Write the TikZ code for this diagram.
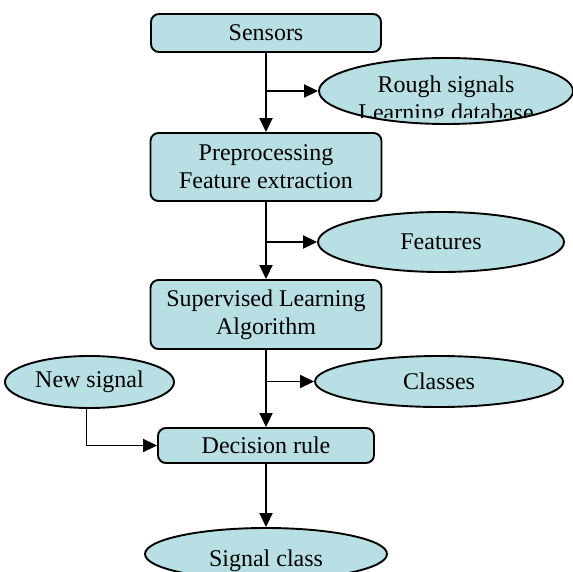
\documentclass[tikz,border=0pt]{standalone}
\usepackage{fontspec}
\setmainfont{Liberation Serif}
\usetikzlibrary{arrows.meta, shapes.geometric, positioning}

\definecolor{boxfill}{RGB}{184,224,228}

\begin{document}
\begin{tikzpicture}[x=1bp, y=-1bp,
		box/.style={draw, line width=1.9bp, fill=boxfill, rounded corners=8bp, inner sep=0pt, align=center},
		bubble/.style={draw, ellipse, line width=1.9bp, fill=boxfill, inner sep=0pt, align=center},
		arr/.style={line width=1.9bp, -{Triangle[length=14bp, width=13bp]}},
		font=\fontsize{24bp}{28bp}\selectfont]
		\clip (0,0) rectangle (573,572);

\node[box, minimum width=230bp, minimum height=38bp] (sensors) at (266,33) {Sensors};
\node[box, minimum width=231bp, minimum height=68bp] (pre) at (266,167) {Preprocessing\\Feature extraction};
\node[box, minimum width=231bp, minimum height=69bp] (sup) at (266,314.5) {Supervised Learning\\Algorithm};
\node[box, minimum width=216bp, minimum height=35bp] (dec) at (266,445.5) {Decision rule};

\node[bubble, minimum width=254bp, minimum height=66bp] (rough) at (446,91) {};
\begin{scope}
	\clip (319,50) rectangle (573,118);
	\node[align=center, inner sep=0pt] (roughtext) at (446,101) {Rough signals\\Learning database};
\end{scope}
\node[bubble, minimum width=246bp, minimum height=60bp] (feat) at (441,242) {Features};
\node[bubble, minimum width=169bp, minimum height=52bp] (newsig) at (89.5,382) {New signal};
\node[bubble, minimum width=248bp, minimum height=51bp] (classes) at (439,381.5) {Classes};
\node[bubble, minimum width=242bp, minimum height=52bp] (sigclass) at (266,554) {};
\node[inner sep=0pt] (sigclasstext) at (266,561) {Signal class};

\draw[arr] (sensors) -- (pre);
\draw[arr] (pre) -- (sup);
\draw[arr] (sup) -- (dec);
\draw[arr] (dec) -- (sigclass);

\draw[arr] (sensors.south |- rough.west) -- (rough.west);
\draw[arr] (pre.south |- feat.west) -- (feat.west);
\draw[arr] (sup.south |- classes.west) -- (classes.west);

\draw[arr] ([xshift=-3bp]newsig.south) |- (dec.west);
	\end{tikzpicture}
\end{document}
